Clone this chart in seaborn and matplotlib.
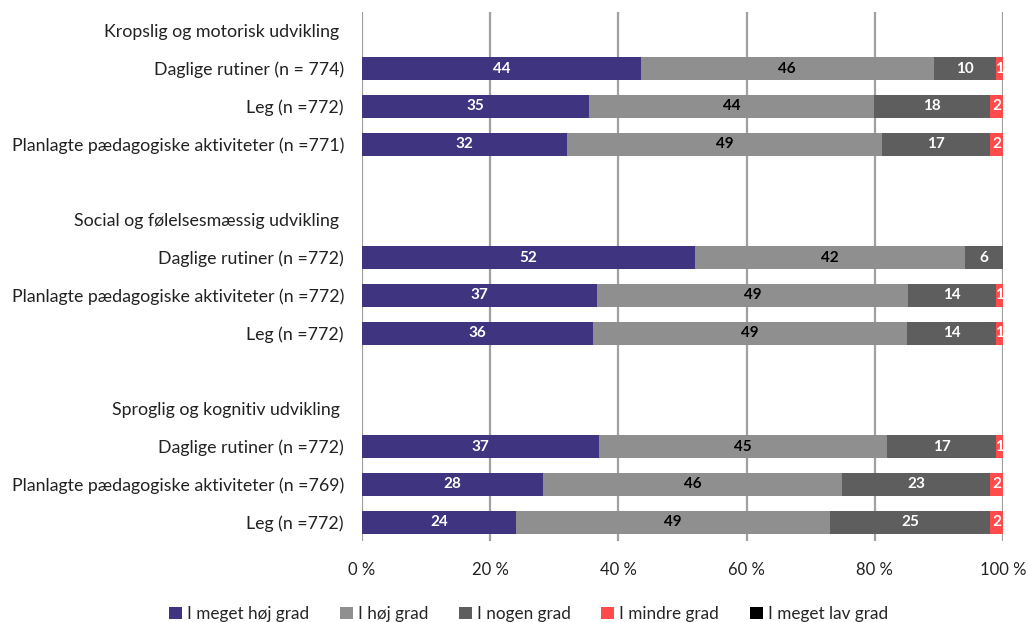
#!/usr/bin/env python3
from __future__ import annotations

import matplotlib

matplotlib.use("Agg")
import matplotlib.pyplot as plt
import numpy as np
import pandas as pd
import seaborn as sns
from matplotlib.patches import Patch

# rows from top to bottom; header rows and blank spacer rows carry no data
ROW_LABELS = [
    "Kropslig og motorisk udvikling ",
    "Daglige rutiner (n = 774)",
    "Leg (n =772)",
    "Planlagte pædagogiske aktiviteter (n =771)",
    "",
    "Social og følelsesmæssig udvikling ",
    "Daglige rutiner (n =772)",
    "Planlagte pædagogiske aktiviteter (n =772)",
    "Leg (n =772)",
    "",
    "Sproglig og kognitiv udvikling ",
    "Daglige rutiner (n =772)",
    "Planlagte pædagogiske aktiviteter (n =769)",
    "Leg (n =772)",
]
DATA_ROWS = [1, 2, 3, 6, 7, 8, 11, 12, 13]

SERIES = ["I meget høj grad", "I høj grad", "I nogen grad", "I mindre grad", "I meget lav grad"]
COLORS = ["#3F3480", "#8F8F8F", "#5E5E5E", "#FF4B4B", "#000000"]
TEXT_COLORS = ["white", "black", "white", "white", "white"]

# bar widths (percent)
MEGET_HOJ = [43.5, 35.4, 32.0, 52.0, 36.7, 36.0, 37.0, 28.2, 24.0]
HOJ = [45.7, 44.5, 49.1, 42.1, 48.5, 49.0, 44.9, 46.7, 49.0]
NOGEN = [9.7, 18.1, 16.9, 5.9, 13.7, 13.9, 17.0, 23.1, 25.0]
MINDRE = [1.1, 2.0, 2.0, 0.0, 1.1, 1.1, 1.1, 2.0, 2.0]
MEGET_LAV = [0.0, 0.0, 0.0, 0.0, 0.0, 0.0, 0.0, 0.0, 0.0]

# printed labels on the bars
LBL_MEGET_HOJ = [44, 35, 32, 52, 37, 36, 37, 28, 24]
LBL_HOJ = [46, 44, 49, 42, 49, 49, 45, 46, 49]
LBL_NOGEN = [10, 18, 17, 6, 14, 14, 17, 23, 25]
LBL_MINDRE = [1, 2, 2, 0, 1, 1, 1, 2, 2]
LBL_MEGET_LAV = [0, 0, 0, 0, 0, 0, 0, 0, 0]

X_TICKS = [0, 20, 40, 60, 80, 100]
X_TICK_LABELS = ["0 %", "20 %", "40 %", "60 %", "80 %", "100 %"]


def main() -> None:
    sns.set_theme(style="white")
    plt.rcParams["font.family"] = ["Lato", "DejaVu Sans"]

    values = np.array([MEGET_HOJ, HOJ, NOGEN, MINDRE, MEGET_LAV])
    labels = np.array([LBL_MEGET_HOJ, LBL_HOJ, LBL_NOGEN, LBL_MINDRE, LBL_MEGET_LAV])
    cum = values.cumsum(axis=0)

    row_ids = [f"r{i}" for i in range(len(ROW_LABELS))]
    data_ids = [row_ids[i] for i in DATA_ROWS]

    fig = plt.figure(figsize=(10.28, 6.22), dpi=100)
    ax = fig.add_axes([362 / 1028, 1 - 541 / 622, 641 / 1028, 529 / 622])

    # draw cumulative bars back to front so each series shows as its own segment
    for k in range(len(SERIES) - 1, -1, -1):
        df = pd.DataFrame({"row": data_ids, "end": cum[k]})
        sns.barplot(
            data=df, x="end", y="row", order=row_ids, orient="y",
            color=COLORS[k], width=0.61, linewidth=0, saturation=1,
            errorbar=None, ax=ax,
        )

    for k in range(len(SERIES)):
        for j, r in enumerate(DATA_ROWS):
            if labels[k, j] <= 0:
                continue
            ax.text(cum[k, j] - values[k, j] / 2, r, str(labels[k, j]),
                    ha="center", va="center", fontsize=11, fontweight="bold",
                    color=TEXT_COLORS[k])

    ax.set_xlim(0, 100)
    ax.set_ylim(len(ROW_LABELS) - 0.5, -0.5)
    ax.set_xticks(X_TICKS)
    ax.set_xticklabels(X_TICK_LABELS, fontsize=12, color="#222222")
    ax.set_yticks(range(len(ROW_LABELS)))
    ax.set_yticklabels(ROW_LABELS, fontsize=12.8, color="#222222")
    ax.tick_params(axis="both", length=0)
    ax.tick_params(axis="x", pad=15)
    ax.tick_params(axis="y", pad=13)
    ax.set_xlabel("")
    ax.set_ylabel("")
    for sp in ax.spines.values():
        sp.set_visible(False)
    for x in X_TICKS:
        ax.axvline(x, color="#A0A0A0", linewidth=1.6, zorder=0)

    handles = [Patch(facecolor=c, edgecolor="none", label=s) for s, c in zip(SERIES, COLORS)]
    fig.legend(
        handles=handles, loc="center", bbox_to_anchor=(0.514, 1 - 614 / 622),
        ncol=5, frameon=False, fontsize=12.3, handlelength=0.75, handleheight=0.75,
        handletextpad=0.3, columnspacing=1.8,
    )

    fig.savefig("out.png", dpi=100)
    plt.close(fig)


if __name__ == "__main__":
    main()
